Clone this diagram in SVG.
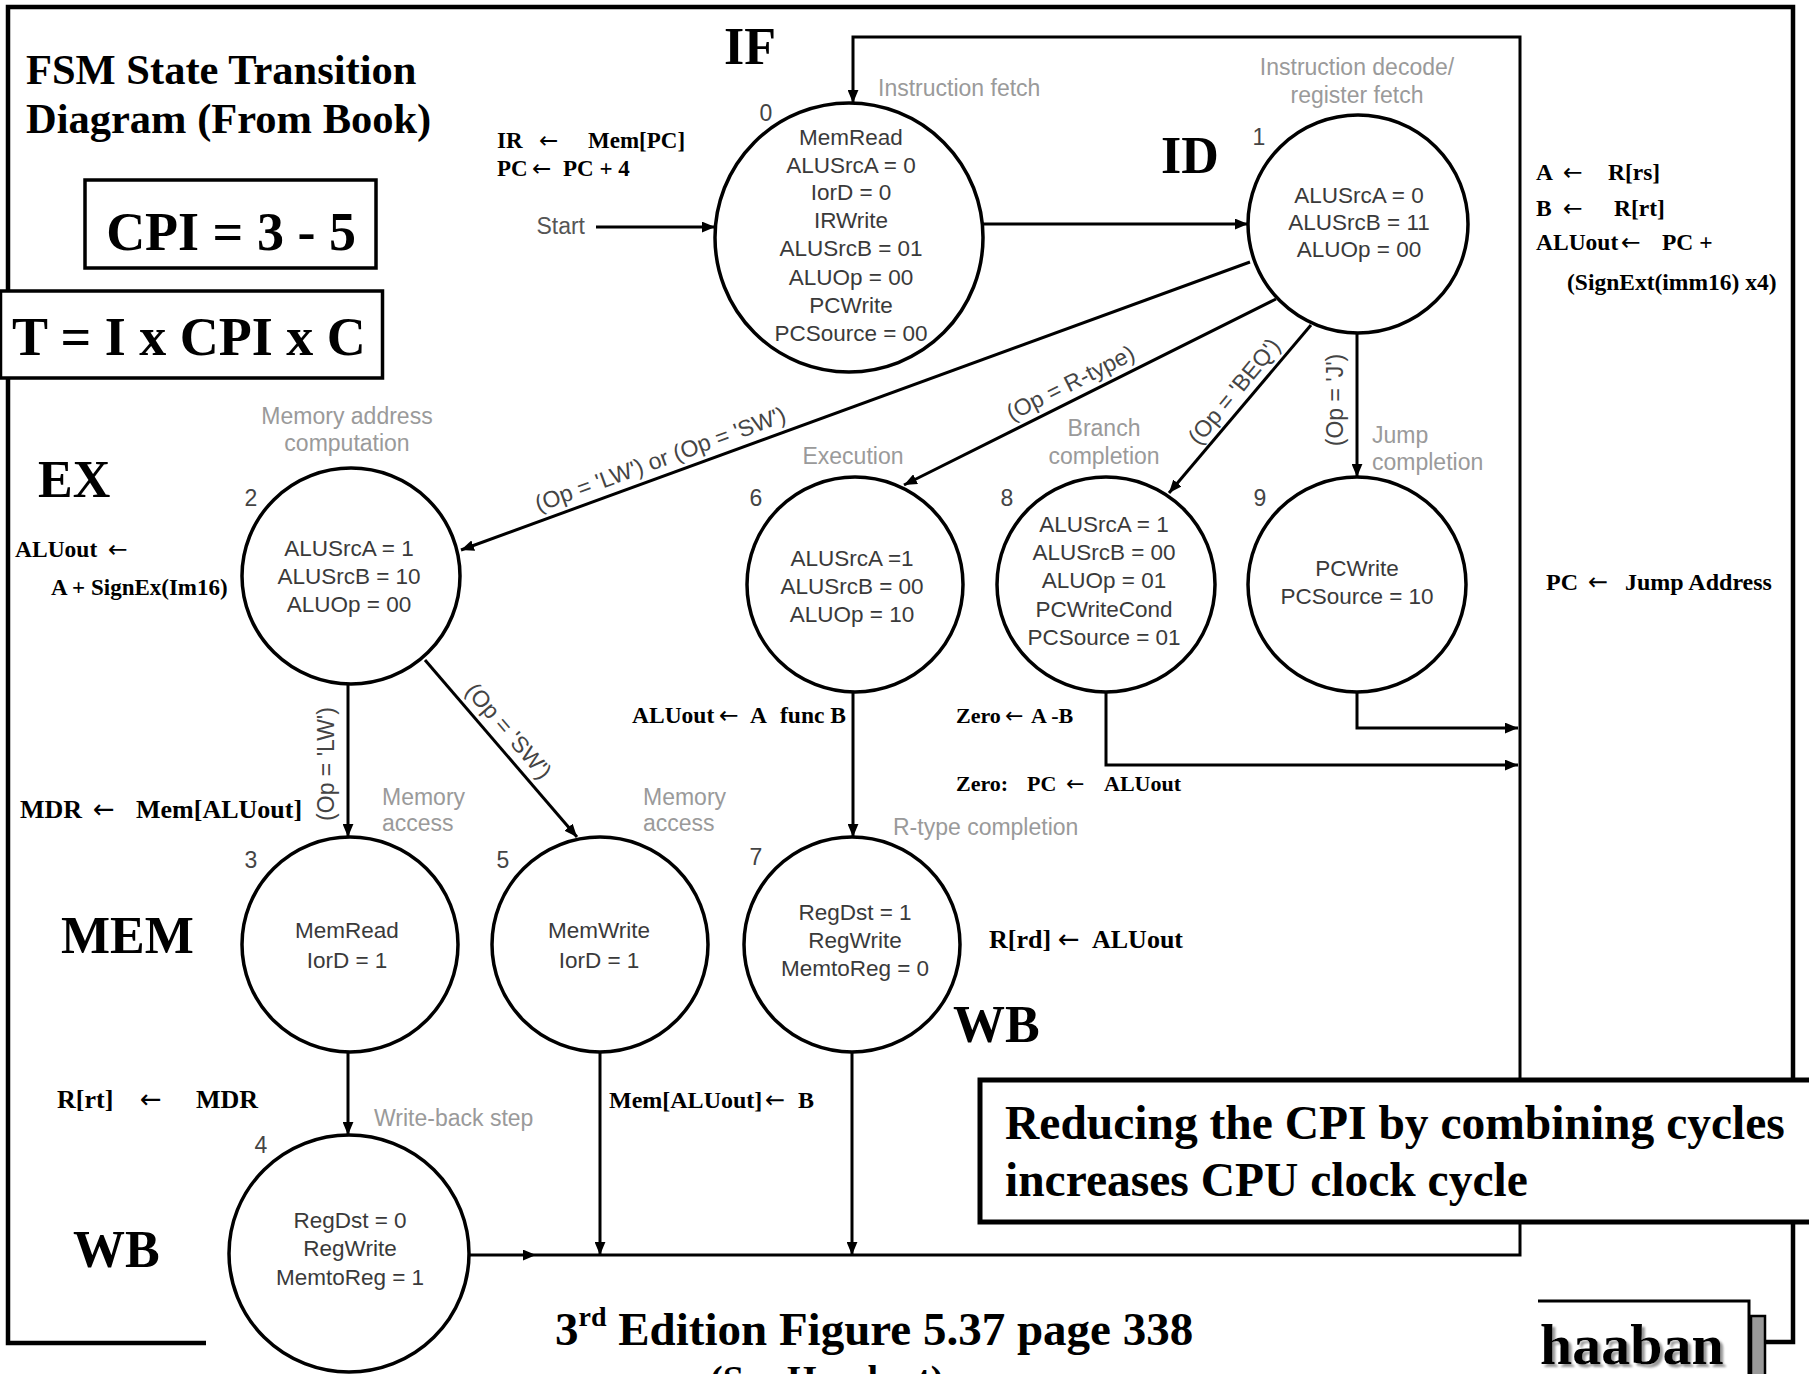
<svg xmlns="http://www.w3.org/2000/svg" width="1809" height="1374" viewBox="0 0 1809 1374">
<style>
.node{fill:#fff;stroke:#000;stroke-width:3.5}
.nt{font-family:"Liberation Sans",Arial,sans-serif;font-size:22.5px;fill:#3a3a3a;text-anchor:middle}
.num{font-family:"Liberation Sans",Arial,sans-serif;font-size:23px;fill:#444;text-anchor:middle}
.lbl{font-family:"Liberation Sans",Arial,sans-serif;font-size:23px;fill:#9a9a9a}
.cond{font-family:"Liberation Sans",Arial,sans-serif;font-size:23px;fill:#444;text-anchor:middle}
.ann{font-family:"Liberation Serif","Times New Roman",serif;font-weight:bold;fill:#000}
.arr{font-family:"DejaVu Sans",sans-serif;font-weight:normal}
.big{font-family:"Liberation Serif","Times New Roman",serif;font-weight:bold;fill:#000;font-size:52px}
.conn{fill:none;stroke:#000;stroke-width:3}
.frame{fill:none;stroke:#000;stroke-width:4.5}
.box{fill:#fff;stroke:#000;stroke-width:3.5}
</style>
<defs>
<marker id="ah" viewBox="0 0 12 10" refX="12" refY="5" markerWidth="13" markerHeight="11" markerUnits="userSpaceOnUse" orient="auto"><path d="M0,0 L12,5 L0,10 z" fill="#000"/></marker>
<filter id="shadow" x="-10%" y="-10%" width="130%" height="130%"><feDropShadow dx="3" dy="3" stdDeviation="0.8" flood-color="#999"/></filter>
</defs>
<rect width="1809" height="1374" fill="#fff"/>

<!-- outer frame -->
<g id="frame">
<path class="frame" d="M206,1343 L8,1343 L8,7 L1793,7 L1793,1342 L1765,1342"/>
</g>

<!-- connectors -->
<g id="connectors">
<path class="conn" d="M469,1255 L536,1255" marker-end="url(#ah)"/>
<path class="conn" d="M536,1255 L1520,1255 L1520,37 L853,37 L853,103" marker-end="url(#ah)"/>
<path class="conn" d="M596,227 L715,227" marker-end="url(#ah)"/>
<path class="conn" d="M983,224 L1248,224" marker-end="url(#ah)"/>
<path class="conn" d="M1250,262 L461,550" marker-end="url(#ah)"/>
<path class="conn" d="M1276,299 L904,485" marker-end="url(#ah)"/>
<path class="conn" d="M1311,325 L1169,493" marker-end="url(#ah)"/>
<path class="conn" d="M1357,333 L1357,477" marker-end="url(#ah)"/>
<path class="conn" d="M348,684 L348,837" marker-end="url(#ah)"/>
<path class="conn" d="M425,660 L577,837" marker-end="url(#ah)"/>
<path class="conn" d="M348,1052 L348,1135" marker-end="url(#ah)"/>
<path class="conn" d="M600,1052 L600,1255" marker-end="url(#ah)"/>
<path class="conn" d="M853,692 L853,837" marker-end="url(#ah)"/>
<path class="conn" d="M852,1052 L852,1255" marker-end="url(#ah)"/>
<path class="conn" d="M1106,692 L1106,765 L1518,765" marker-end="url(#ah)"/>
<path class="conn" d="M1357,692 L1357,728 L1518,728" marker-end="url(#ah)"/>
<text class="cond" transform="translate(666,475) rotate(-20.1)" y="-9">(Op = 'LW') or (Op = 'SW')</text>
<text class="cond" transform="translate(1078,398) rotate(-26.6)" y="-9">(Op = R-type)</text>
<text class="cond" transform="translate(1247,402) rotate(-50.4)" y="-9">(Op = 'BEQ')</text>
<text class="cond" transform="translate(1357,400) rotate(-90)" y="-14">(Op = 'J')</text>
<text class="cond" transform="translate(348,764) rotate(-90)" y="-14">(Op = 'LW')</text>
<text class="cond" transform="translate(496,742) rotate(49.3)" y="-9">(Op = 'SW')</text>
<text class="lbl" x="585" y="234" style="fill:#555" text-anchor="end">Start</text>
</g>

<!-- states -->
<g id="state0">
<ellipse class="node" cx="849" cy="237.5" rx="134" ry="134.5"/>
<text class="num" x="766" y="121">0</text>
<text class="nt"><tspan x="851" y="145">MemRead</tspan><tspan x="851" y="173">ALUSrcA = 0</tspan><tspan x="851" y="200">IorD = 0</tspan><tspan x="851" y="228">IRWrite</tspan><tspan x="851" y="256">ALUSrcB = 01</tspan><tspan x="851" y="285">ALUOp = 00</tspan><tspan x="851" y="313">PCWrite</tspan><tspan x="851" y="341">PCSource = 00</tspan></text>
<text class="lbl" x="878" y="96">Instruction fetch</text>
</g>
<g id="state1">
<ellipse class="node" cx="1358" cy="224" rx="110" ry="109"/>
<text class="num" x="1259" y="145">1</text>
<text class="nt"><tspan x="1359" y="203">ALUSrcA = 0</tspan><tspan x="1359" y="230">ALUSrcB = 11</tspan><tspan x="1359" y="257">ALUOp = 00</tspan></text>
<text class="lbl" text-anchor="middle"><tspan x="1357" y="75">Instruction decode/</tspan><tspan x="1357" y="103">register fetch</tspan></text>
</g>
<g id="state2">
<ellipse class="node" cx="351" cy="576" rx="109" ry="108"/>
<text class="num" x="251" y="506">2</text>
<text class="nt"><tspan x="349" y="556">ALUSrcA = 1</tspan><tspan x="349" y="584">ALUSrcB = 10</tspan><tspan x="349" y="612">ALUOp = 00</tspan></text>
<text class="lbl" text-anchor="middle"><tspan x="347" y="424">Memory address</tspan><tspan x="347" y="451">computation</tspan></text>
</g>
<g id="state6">
<ellipse class="node" cx="855" cy="584.5" rx="108" ry="107.5"/>
<text class="num" x="756" y="506">6</text>
<text class="nt"><tspan x="852" y="566">ALUSrcA =1</tspan><tspan x="852" y="594">ALUSrcB = 00</tspan><tspan x="852" y="622">ALUOp = 10</tspan></text>
<text class="lbl" x="853" y="464" text-anchor="middle">Execution</text>
</g>
<g id="state8">
<ellipse class="node" cx="1106" cy="584.5" rx="109" ry="107.5"/>
<text class="num" x="1007" y="506">8</text>
<text class="nt"><tspan x="1104" y="532">ALUSrcA = 1</tspan><tspan x="1104" y="560">ALUSrcB = 00</tspan><tspan x="1104" y="588">ALUOp = 01</tspan><tspan x="1104" y="617">PCWriteCond</tspan><tspan x="1104" y="645">PCSource = 01</tspan></text>
<text class="lbl" text-anchor="middle"><tspan x="1104" y="436">Branch</tspan><tspan x="1104" y="464">completion</tspan></text>
</g>
<g id="state9">
<ellipse class="node" cx="1357" cy="584.5" rx="109" ry="107.5"/>
<text class="num" x="1260" y="506">9</text>
<text class="nt"><tspan x="1357" y="576">PCWrite</tspan><tspan x="1357" y="604">PCSource = 10</tspan></text>
<text class="lbl"><tspan x="1372" y="443">Jump</tspan><tspan x="1372" y="470">completion</tspan></text>
</g>
<g id="state3">
<ellipse class="node" cx="350" cy="944.5" rx="108" ry="107.5"/>
<text class="num" x="251" y="868">3</text>
<text class="nt"><tspan x="347" y="938">MemRead</tspan><tspan x="347" y="968">IorD = 1</tspan></text>
<text class="lbl"><tspan x="382" y="805">Memory</tspan><tspan x="382" y="831">access</tspan></text>
</g>
<g id="state5">
<ellipse class="node" cx="600" cy="944.5" rx="108" ry="107.5"/>
<text class="num" x="503" y="868">5</text>
<text class="nt"><tspan x="599" y="938">MemWrite</tspan><tspan x="599" y="968">IorD = 1</tspan></text>
<text class="lbl"><tspan x="643" y="805">Memory</tspan><tspan x="643" y="831">access</tspan></text>
</g>
<g id="state7">
<ellipse class="node" cx="852" cy="944.5" rx="108" ry="107.5"/>
<text class="num" x="756" y="865">7</text>
<text class="nt"><tspan x="855" y="920">RegDst = 1</tspan><tspan x="855" y="948">RegWrite</tspan><tspan x="855" y="976">MemtoReg = 0</tspan></text>
<text class="lbl" x="893" y="835">R-type completion</text>
</g>
<g id="state4">
<ellipse class="node" cx="349" cy="1253.5" rx="120" ry="118.5"/>
<text class="num" x="261" y="1153">4</text>
<text class="nt"><tspan x="350" y="1228">RegDst = 0</tspan><tspan x="350" y="1256">RegWrite</tspan><tspan x="350" y="1285">MemtoReg = 1</tspan></text>
<text class="lbl" x="374" y="1126">Write-back step</text>
</g>

<!-- annotations -->
<g id="title">
<text class="ann" font-size="42.5"><tspan x="26" y="84">FSM State Transition</tspan><tspan x="26" y="133">Diagram (From Book)</tspan></text>
</g>
<g id="cpi-box">
<rect class="box" x="85" y="180" width="291" height="88"/>
<text class="ann" font-size="54" x="231" y="250" text-anchor="middle">CPI = 3 - 5</text>
</g>
<g id="t-box">
<rect class="box" x="0.5" y="291" width="382" height="87"/>
<text class="ann" font-size="54" x="12" y="355">T = I x CPI x C</text>
</g>
<g id="stages">
<text class="big" x="724" y="64">IF</text>
<text class="big" x="1161" y="173">ID</text>
<text class="big" x="38" y="497">EX</text>
<text class="big" x="61" y="953">MEM</text>
<text class="big" x="73" y="1267">WB</text>
<text class="big" x="953" y="1042">WB</text>
</g>
<g id="rtl">
<text class="ann" font-size="23" y="148"><tspan x="497">IR</tspan><tspan class="arr" x="539">←</tspan><tspan x="588">Mem[PC]</tspan></text>
<text class="ann" font-size="23" y="176"><tspan x="497">PC</tspan><tspan class="arr" x="532">←</tspan><tspan x="563">PC + 4</tspan></text>
<text class="ann" font-size="23.5" y="180"><tspan x="1536">A</tspan><tspan class="arr" x="1563">←</tspan><tspan x="1608">R[rs]</tspan></text>
<text class="ann" font-size="23.5" y="216"><tspan x="1536">B</tspan><tspan class="arr" x="1563">←</tspan><tspan x="1614">R[rt]</tspan></text>
<text class="ann" font-size="23.5" y="250"><tspan x="1536">ALUout</tspan><tspan class="arr" x="1621">←</tspan><tspan x="1662">PC +</tspan></text>
<text class="ann" font-size="23.5" x="1567" y="290">(SignExt(imm16) x4)</text>
<text class="ann" font-size="23.5" y="557"><tspan x="15">ALUout</tspan><tspan class="arr" x="108">←</tspan></text>
<text class="ann" font-size="23" x="51" y="595">A + SignEx(Im16)</text>
<text class="ann" font-size="26" y="818"><tspan x="20">MDR</tspan><tspan class="arr" x="93">←</tspan><tspan x="136">Mem[ALUout]</tspan></text>
<text class="ann" font-size="23.5" y="723"><tspan x="632">ALUout</tspan><tspan class="arr" x="719">←</tspan><tspan x="750">A</tspan><tspan x="780">func B</tspan></text>
<text class="ann" font-size="22" y="723"><tspan x="956">Zero</tspan><tspan class="arr" x="1005">←</tspan><tspan x="1031">A -B</tspan></text>
<text class="ann" font-size="22" y="791"><tspan x="956">Zero:</tspan><tspan x="1027">PC</tspan><tspan class="arr" x="1066">←</tspan><tspan x="1104">ALUout</tspan></text>
<text class="ann" font-size="24" y="590"><tspan x="1546">PC</tspan><tspan class="arr" x="1588">←</tspan><tspan x="1625">Jump Address</tspan></text>
<text class="ann" font-size="26" y="948"><tspan x="989">R[rd]</tspan><tspan class="arr" x="1058">←</tspan><tspan x="1092">ALUout</tspan></text>
<text class="ann" font-size="26" y="1108"><tspan x="57">R[rt]</tspan><tspan class="arr" x="140">←</tspan><tspan x="196">MDR</tspan></text>
<text class="ann" font-size="24" y="1108"><tspan x="609">Mem[ALUout]</tspan><tspan class="arr" x="765">←</tspan><tspan x="798">B</tspan></text>
</g>
<g id="note-box">
<rect x="980" y="1080" width="840" height="142" fill="#fff" stroke="#000" stroke-width="5"/>
<text class="ann" font-size="47.5"><tspan x="1005" y="1139">Reducing the CPI by combining cycles</tspan><tspan x="1005" y="1196">increases CPU clock cycle</tspan></text>
</g>
<g id="caption">
<text class="ann" font-size="47" x="555" y="1345">3<tspan font-size="28" dy="-19">rd</tspan><tspan dy="19"> Edition Figure 5.37 page 338</tspan></text>
<text class="ann" font-size="38" x="710" y="1392">(See Handout)</text>
</g>
<g id="haaban">
<path d="M1538,1301 L1749,1301 L1749,1380" fill="none" stroke="#000" stroke-width="3"/>
<rect x="1751" y="1316" width="14" height="70" fill="#999" stroke="#000" stroke-width="2.5"/>
<text class="ann" font-size="58" x="1540" y="1364" filter="url(#shadow)">haaban</text>
</g>
</svg>
